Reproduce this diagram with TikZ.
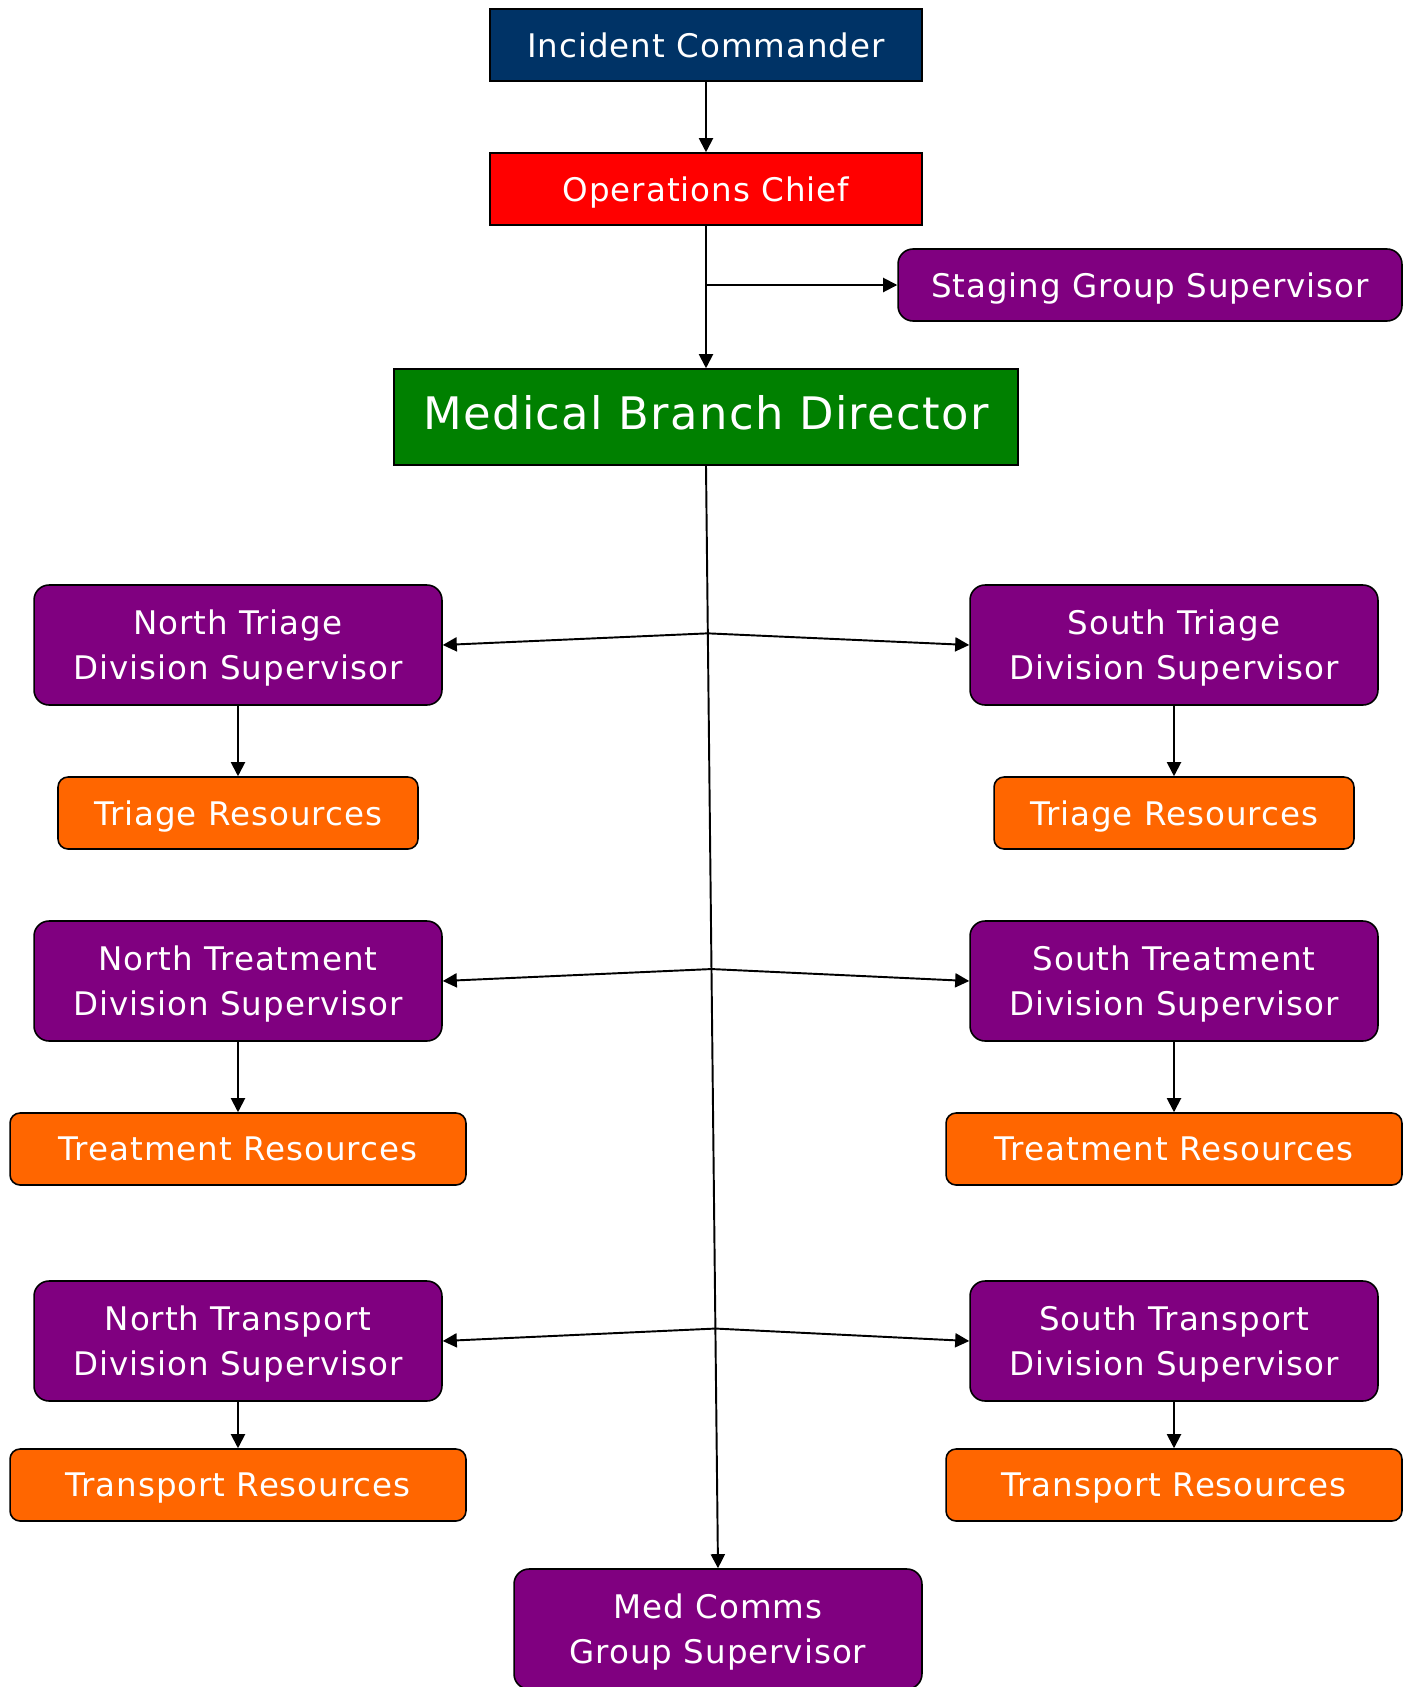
\documentclass[tikz,border=0pt]{standalone}
\usepackage{fontspec}
\setmainfont{DejaVu Sans}[LetterSpace=3]
\usetikzlibrary{arrows.meta,calc}

\definecolor{icnavy}{RGB}{0,51,102}
\definecolor{opsred}{RGB}{255,0,0}
\definecolor{medgreen}{RGB}{0,128,0}
\definecolor{suppurple}{RGB}{128,0,128}
\definecolor{resorange}{RGB}{255,102,0}

\tikzset{
  box/.style={draw=black,line width=0.9pt,text=white,align=center,inner sep=0pt,
    text depth=0pt,font=\fontsize{18.5}{25.5}\selectfont},
  headbox/.style={box,minimum width=8.64cm,minimum height=1.44cm},
  branchbox/.style={box,fill=medgreen,minimum width=12.48cm,minimum height=1.92cm,
    text depth=0.2cm,font=\fontsize{25.5}{30}\selectfont},
  supbox/.style={box,fill=suppurple,rounded corners=0.3cm,minimum width=8.16cm,minimum height=2.4cm},
  resbox/.style={box,fill=resorange,rounded corners=0.2cm,minimum height=1.44cm},
  link/.style={line width=1.1pt,->}
}

\begin{document}
\begin{tikzpicture}[x=0.02cm,y=-0.02cm,>={Triangle[length=8pt,width=8pt]}]
\useasboundingbox (0,0) rectangle (1411,1687);

\node[headbox,fill=icnavy] (ic) at (706,45) {Incident Commander};
\node[headbox,fill=opsred] (oc) at (706,189) {Operations Chief};
\node[supbox,minimum width=10.08cm,minimum height=1.44cm] (sgs) at (1150,285) {Staging Group Supervisor};
\node[branchbox] (mbd) at (706,417) {Medical Branch Director};

% north side
\node[supbox] (ntri) at (238,645) {North Triage\\Division Supervisor};
\node[resbox,minimum width=7.2cm] (ntrires) at (238,813) {Triage Resources};
\node[supbox] (ntre) at (238,981) {North Treatment\\Division Supervisor};
\node[resbox,minimum width=9.12cm] (ntreres) at (238,1149) {Treatment Resources};
\node[supbox] (ntra) at (238,1341) {North Transport\\Division Supervisor};
\node[resbox,minimum width=9.12cm] (ntrares) at (238,1485) {Transport Resources};

% south side
\node[supbox] (stri) at (1174,645) {South Triage\\Division Supervisor};
\node[resbox,minimum width=7.2cm] (strires) at (1174,813) {Triage Resources};
\node[supbox] (stre) at (1174,981) {South Treatment\\Division Supervisor};
\node[resbox,minimum width=9.12cm] (streres) at (1174,1149) {Treatment Resources};
\node[supbox] (stra) at (1174,1341) {South Transport\\Division Supervisor};
\node[resbox,minimum width=9.12cm] (strares) at (1174,1485) {Transport Resources};

\node[supbox] (mcg) at (718,1629) {Med Comms\\Group Supervisor};

% connectors
\draw[link] (ic) -- (oc);
\draw[link] (oc) -- (mbd);
\coordinate (jsg) at (oc.south |- sgs.west);
\draw[link] (jsg) -- (sgs);
\draw[link] (mbd.south) -- (mcg.north);

\coordinate (jtri) at ($(mbd.south)!0.152!(mcg.north)$);
\coordinate (jtre) at ($(mbd.south)!0.4565!(mcg.north)$);
\coordinate (jtra) at ($(mbd.south)!0.7826!(mcg.north)$);
\draw[link] (jtri) -- (ntri.east);
\draw[link] (jtri) -- (stri.west);
\draw[link] (jtre) -- (ntre.east);
\draw[link] (jtre) -- (stre.west);
\draw[link] (jtra) -- (ntra.east);
\draw[link] (jtra) -- (stra.west);

\draw[link] (ntri) -- (ntrires);
\draw[link] (ntre) -- (ntreres);
\draw[link] (ntra) -- (ntrares);
\draw[link] (stri) -- (strires);
\draw[link] (stre) -- (streres);
\draw[link] (stra) -- (strares);
\end{tikzpicture}
\end{document}
